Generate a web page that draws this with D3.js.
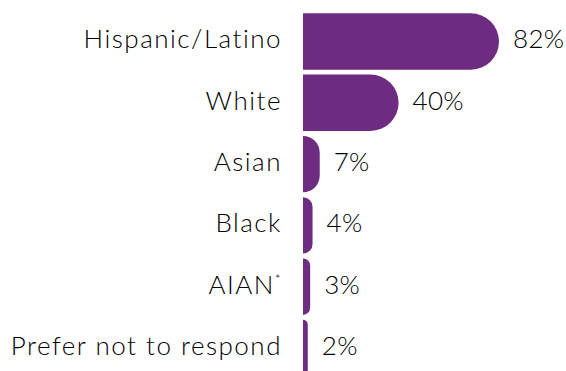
<!DOCTYPE html>
<html>
<head>
<meta charset="utf-8">
<script src="https://cdn.jsdelivr.net/npm/d3@7"></script>
<style>
  html, body { margin: 0; padding: 0; background: #fff; }
  svg { display: block; }
  text { font-family: Lato, "Open Sans", sans-serif; fill: #000; font-weight: 300; }
</style>
</head>
<body>
<svg id="chart" width="566" height="371"></svg>
<script>
const categories = ["Hispanic/Latino", "White", "Asian", "Black", "AIAN*", "Prefer not to respond"];
const values = [82, 40, 7, 4, 3, 2];
const valueLabels = ["82%", "40%", "7%", "4%", "3%", "2%"];

const W = 566, H = 371;
const x0 = 303;
const svg = d3.select("#chart");

const x = d3.scaleLinear().domain([0, 82]).range([x0, 499]);
const y = d3.scaleBand().domain(categories).range([13.3, 376.2]).paddingInner(0.08).paddingOuter(0);

const data = categories.map((c, i) => ({ c, v: values[i], label: valueLabels[i] }));

function barPath(d) {
  const xs = x(0), xe = x(d.v), yt = y(d.c), h = y.bandwidth();
  const w = xe - xs;
  const r = Math.min(h / 2, w);
  return `M${xs},${yt}H${xe - r}A${r},${r} 0 0 1 ${xe},${yt + r}V${yt + h - r}A${r},${r} 0 0 1 ${xe - r},${yt + h}H${xs}Z`;
}

svg.selectAll("path.bar").data(data).join("path")
  .attr("class", "bar")
  .attr("d", barPath)
  .attr("fill", "#6d2c82");

svg.selectAll("text.cat").data(data).join("text")
  .attr("class", "cat")
  .attr("x", x0 - 21)
  .attr("y", d => y(d.c) + y.bandwidth() / 2 + 7)
  .attr("text-anchor", "end")
  .attr("font-size", 26)
  .attr("letter-spacing", 1.5)
  .text(d => d.c.replace("*", ""))
  .each(function(d) {
    if (d.c.endsWith("*")) {
      d3.select(this).append("tspan").attr("font-size", 13).attr("dy", -10).text("*");
    }
  });

svg.selectAll("text.val").data(data).join("text")
  .attr("class", "val")
  .attr("x", d => x(d.v) + 14)
  .attr("y", d => y(d.c) + y.bandwidth() / 2 + 7)
  .attr("text-anchor", "start")
  .attr("font-size", 26)
  .attr("letter-spacing", 0.3)
  .text(d => d.label);
</script>
</body>
</html>
